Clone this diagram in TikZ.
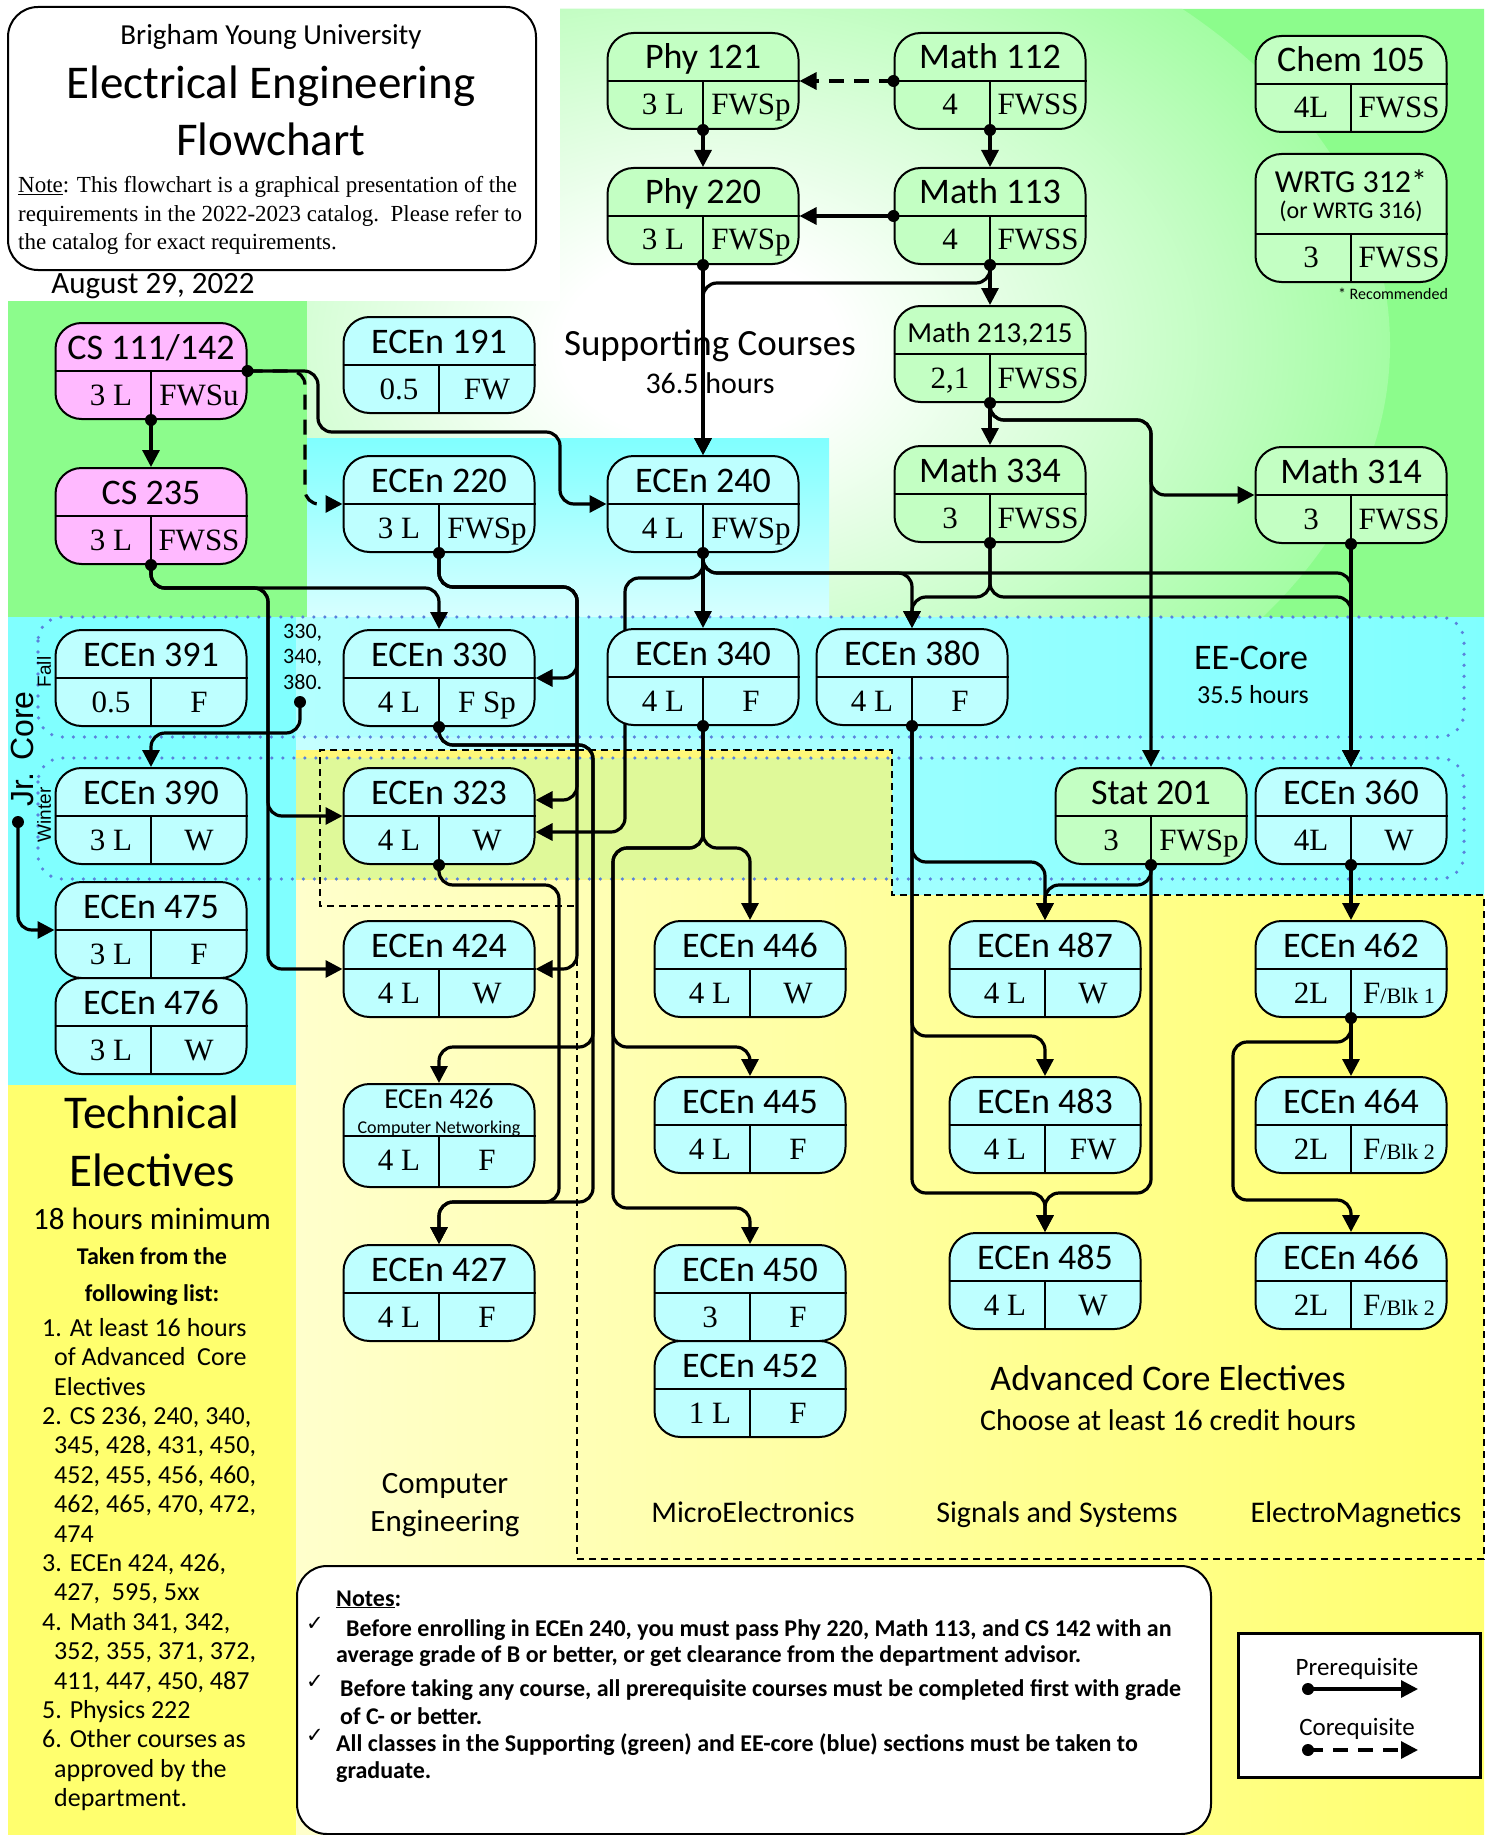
\documentclass[tikz,border=0pt]{standalone}
\usepackage{fontspec}
\setmainfont{Carlito}
\newfontfamily\serifnum{Liberation Serif}
\newfontfamily\arialfont{Liberation Sans}
\newfontfamily\checkfont{DejaVu Sans}
\usetikzlibrary{arrows.meta,calc}

\pgfdeclarelayer{bg}
\pgfdeclarelayer{lines}
\pgfsetlayers{bg,lines,main}

\definecolor{greenbg}{RGB}{140,252,140}
\definecolor{cyanbg}{RGB}{128,255,255}
\definecolor{cyanlight}{RGB}{215,255,255}
\definecolor{yellowbg}{RGB}{255,255,110}
\definecolor{yellowlight}{RGB}{255,255,238}
\definecolor{cebg}{RGB}{255,248,120}
\definecolor{eebox}{RGB}{190,255,255}
\definecolor{suppbox}{RGB}{195,255,195}
\definecolor{csbox}{RGB}{255,185,255}
\definecolor{banddot}{RGB}{90,130,220}

\pgfdeclareradialshading{suppglow}{\pgfpoint{0bp}{0bp}}{color(0bp)=(white); color(5bp)=(white); color(18bp)=(greenbg!50!white); color(30bp)=(greenbg); color(50bp)=(greenbg)}

\newcommand{\fsz}[1]{\fontsize{#1}{#1}\selectfont}
\newcommand{\blk}[1]{F{\fsz{22}/Blk #1}}

\tikzset{
  coursebox/.style={draw, line width=2pt, rounded corners=26pt, minimum width=191pt, minimum height=96pt, inner sep=0pt},
  coursetitle/.style={anchor=base, inner sep=0pt, font=\fsz{36}},
  coursenum/.style={anchor=base, inner sep=0pt, font=\serifnum\fsz{31}},
  lbl/.style={anchor=base, inner sep=0pt},
  prereq/.style={line width=3.2pt, rounded corners=14pt, -{Triangle[length=17pt,width=17pt]}},
  coreq/.style={prereq, dash pattern=on 15pt off 10pt},
  region/.style={dash pattern=on 7pt off 5pt, line width=1.8pt},
  band/.style={draw=banddot, line width=3.6pt, line cap=round, dash pattern=on 0pt off 11pt, rounded corners=24pt, fill=cyanbg, fill opacity=0.25},
  notetext/.style={lbl, anchor=base west, font=\bfseries\fsz{24}},
}

% one course: name, x, y, fill, title, credits, semesters
\newcommand{\course}[7]{%
  \node[coursebox, fill=#4] (#1) at (#2,#3) {};
  \draw[line width=2pt] (#1.west) -- (#1.east) (#1.center) -- (#1.south);
  \node[coursetitle] (#1-t) at ($(#1.center)+(0,-12)$) {#5};
  \node[coursenum] (#1-c) at ($(#1.center)+(-40,34)$) {#6};
  \node[coursenum] (#1-s) at ($(#1.center)+(48,34)$) {#7};
}

\begin{document}
\begin{tikzpicture}[x=1pt, y=-1pt]
\useasboundingbox (0,0) rectangle (1490,1835);

% background regions
\begin{pgfonlayer}{bg}
\fill[white] (0,0) rectangle (1490,1835);
\fill[greenbg] (8,301) rectangle (307,617);
\begin{scope}
\clip (560,9) -- (1484,9) -- (1484,617) -- (829,617) -- (829,438) -- (307,438) -- (307,301) -- (560,301) -- cycle;
\fill[greenbg] (300,0) rectangle (1490,620);
\shade[shading=suppglow] (700,345) ellipse (690 and 470);
\end{scope}
\shade[top color=cyanbg, bottom color=cyanlight] (307,438) rectangle (829,617);
\fill[cyanbg] (8,617) rectangle (296,1085);
\shade[left color=cyanlight!80!cyanbg, middle color=cyanlight!20!white, right color=cyanbg] (296,617) -- (1484,617) -- (1484,895) -- (892,895) -- (892,750) -- (296,750) -- cycle;
\fill[yellowbg] (8,1085) rectangle (296,1835);
\shade[left color=yellowbg!35!white, middle color=yellowlight, right color=yellowbg] (296,750) -- (892,750) -- (892,895) -- (1484,895) -- (1484,1835) -- (296,1835) -- cycle;
\fill[cebg] (296,750) rectangle (892,880);

\draw[band] (38,617) rectangle (1464,737);
\draw[band] (38,758) rectangle (1464,879);

\draw[region] (577,750) -- (320,750) -- (320,906) -- (577,906);
\draw[region] (577,750) -- (892,750) -- (892,895) -- (1484,895) -- (1484,1559) -- (577,1559) -- cycle;

% region labels
\node[lbl, font=\fsz{37}] (supp) at (710,355) {Supporting Courses};
\node[lbl, font=\fsz{30}] (supph) at (710,393) {36.5 hours};
\node[lbl, font=\fsz{36}] (eecore) at (1251,669) {EE-Core};
\node[lbl, font=\fsz{26}] (eecoreh) at (1253,703) {35.5 hours};
\node[font=\arialfont\fsz{32}, rotate=90, inner sep=0pt] (jrcore) at (22,749) {Jr. Core};
\node[font=\arialfont\fsz{19}, rotate=90, inner sep=0pt] (fall) at (44,672) {Fall};
\node[font=\arialfont\fsz{19}, rotate=90, inner sep=0pt] (winterlbl) at (44,815) {Winter};
\node[anchor=north west, inner sep=0pt, align=left, font=\fontsize{22}{25.5}\selectfont] (alltaken) at (283,624) {330,\\340,\\380.};
\end{pgfonlayer}
\coordinate (allcore) at (300,702);
\coordinate (winter) at (18,822);

% courses
\course{phy121}{703}{81}{suppbox}{Phy 121}{3 L}{FWSp}
\course{math112}{990}{81}{suppbox}{Math 112}{4}{FWSS}
\course{chem105}{1351}{84}{suppbox}{Chem 105}{4L}{FWSS}
\course{phy220}{703}{216}{suppbox}{Phy 220}{3 L}{FWSp}
\course{math113}{990}{216}{suppbox}{Math 113}{4}{FWSS}
\course{math213}{990}{354}{suppbox}{{\fsz{29}Math 213,215}}{2,1}{FWSS}
\course{cs111}{151}{371}{csbox}{CS 111/142}{3 L}{FWSu}
\course{ecen191}{439}{365}{eebox}{ECEn 191}{0.5}{FW}
\course{ecen220}{439}{504}{eebox}{ECEn 220}{3 L}{FWSp}
\course{ecen240}{703}{504}{eebox}{ECEn 240}{4 L}{FWSp}
\course{math334}{990}{494}{suppbox}{Math 334}{3}{FWSS}
\course{math314}{1351}{495}{suppbox}{Math 314}{3}{FWSS}
\course{cs235}{151}{516}{csbox}{CS 235}{3 L}{FWSS}
\course{ecen391}{151}{678}{eebox}{ECEn 391}{0.5}{F}
\course{ecen330}{439}{678}{eebox}{ECEn 330}{4 L}{F Sp}
\course{ecen340}{703}{677}{eebox}{ECEn 340}{4 L}{F}
\course{ecen380}{912}{677}{eebox}{ECEn 380}{4 L}{F}
\course{ecen390}{151}{816}{eebox}{ECEn 390}{3 L}{W}
\course{ecen323}{439}{816}{eebox}{ECEn 323}{4 L}{W}
\course{stat201}{1151}{816}{suppbox}{Stat 201}{3}{FWSp}
\course{ecen360}{1351}{816}{eebox}{ECEn 360}{4L}{W}
\course{ecen475}{151}{930}{eebox}{ECEn 475}{3 L}{F}
\course{ecen476}{151}{1026}{eebox}{ECEn 476}{3 L}{W}
\course{ecen424}{439}{969}{eebox}{ECEn 424}{4 L}{W}
\course{ecen446}{750}{969}{eebox}{ECEn 446}{4 L}{W}
\course{ecen487}{1045}{969}{eebox}{ECEn 487}{4 L}{W}
\course{ecen462}{1351}{969}{eebox}{ECEn 462}{2L}{\blk{1}}
\course{ecen445}{750}{1125}{eebox}{ECEn 445}{4 L}{F}
\course{ecen483}{1045}{1125}{eebox}{ECEn 483}{4 L}{FW}
\course{ecen464}{1351}{1125}{eebox}{ECEn 464}{2L}{\blk{2}}
\course{ecen427}{439}{1293}{eebox}{ECEn 427}{4 L}{F}
\course{ecen450}{750}{1293}{eebox}{ECEn 450}{3}{F}
\course{ecen485}{1045}{1281}{eebox}{ECEn 485}{4 L}{W}
\course{ecen466}{1351}{1281}{eebox}{ECEn 466}{2L}{\blk{2}}
\course{ecen452}{750}{1389}{eebox}{ECEn 452}{1 L}{F}

\node[coursebox, fill=suppbox, minimum height=128pt] (wrtg) at (1351,218) {};
\draw[line width=2pt] ($(wrtg.west)+(0,16)$) -- ($(wrtg.east)+(0,16)$) ($(wrtg.center)+(0,16)$) -- (wrtg.south);
\node[lbl, font=\fsz{32}] (wrtg-t) at (1351,193) {WRTG 312*};
\node[lbl, font=\fsz{24}] (wrtg-o) at (1351,219) {(or WRTG 316)};
\node[coursenum] (wrtg-c) at (1311,268) {3};
\node[coursenum] (wrtg-s) at (1399,268) {FWSS};
\node[lbl, font=\fsz{16}] (rec) at (1393,299) {* Recommended};

\node[coursebox, fill=eebox, minimum height=103pt] (ecen426) at (439,1135.5) {};
\draw[line width=2pt] (ecen426.west) -- (ecen426.east) (ecen426.center) -- (ecen426.south);
\node[lbl, font=\fsz{29}] (ecen426-t) at (439,1108) {ECEn 426};
\node[lbl, font=\fsz{18}] (ecen426-n) at (439,1133) {Computer Networking};
\node[coursenum] (ecen426-c) at (399,1170) {4 L};
\node[coursenum] (ecen426-s) at (487,1170) {F};

% connectors
\begin{pgfonlayer}{lines}
\draw[coreq] (math112.west) -- (phy121.east);
\draw[prereq] (phy121.south) -- (phy220.north);
\draw[prereq] (math112.south) -- (math113.north);
\draw[prereq] (math113.west) -- (phy220.east);
\draw[prereq] (math113.south) -- (math213.north);
\draw[prereq] (phy220.south) -- (ecen240.north);
\draw[prereq] (math113.south) -- ++(0,18) -| (ecen240.north);
\draw[prereq] (math213.south) -- (math334.north);
\draw[prereq] (math213.south) |- (1151,420) |- (math314.west);
\draw[prereq] (math213.south) |- (1151,420) -- (stat201.north);
\draw[prereq] (math334.south) |- (912,597) -- (ecen380.north);
\draw[prereq] (math334.south) |- (1351,597) -- (ecen360.north);
\draw[prereq] (math314.south) -- (ecen360.north);
\draw[prereq] (cs111.south) -- (cs235.north);
\draw[prereq] (cs111.east) -| (318,432) -| (560,504) -- (ecen240.west);
\draw[coreq] (cs111.east) -| (305,504) -- (ecen220.west);
\draw[prereq] (cs235.south) |- (439,588) -- (ecen330.north);
\draw[prereq] (cs235.south) |- (268,588) |- (ecen323.west);
\draw[prereq] (cs235.south) |- (268,588) |- (ecen424.west);
\draw[prereq] (ecen220.south) |- (577,587) |- (ecen330.east);
\draw[prereq] (ecen220.south) |- (577,587) |- ($(ecen323.east)+(0,-16)$);
\draw[prereq] (ecen220.south) |- (577,587) |- (ecen424.east);
\draw[prereq] (ecen240.south) -- (ecen340.north);
\draw[prereq] (ecen240.south) |- (912,573) -- (ecen380.north);
\draw[prereq] (ecen240.south) |- (1351,573) -- (ecen360.north);
\draw[prereq] (ecen240.south) |- (625,578) |- ($(ecen323.east)+(0,16)$);
\draw[prereq] (allcore) |- (151,733) -- (ecen390.north);
\draw[prereq] (winter) |- (ecen475.west);
\draw[prereq] (ecen330.south) |- (593,745) |- (439,1047) -- (ecen426.north);
\draw[prereq] (ecen330.south) |- (593,745) |- (439,1202) -- (ecen427.north);
\draw[prereq] (ecen323.south) |- (559,885) |- (439,1202) -- (ecen427.north);
\draw[prereq] (ecen340.south) |- (750,848) -- (ecen446.north);
\draw[prereq] (ecen340.south) |- (613,848) |- (750,1047) -- (ecen445.north);
\draw[prereq] (ecen340.south) |- (613,848) |- (750,1208) -- (ecen450.north);
\draw[prereq] (ecen380.south) |- (1045,862) -- (ecen487.north);
\draw[prereq] (ecen380.south) |- (1045,1036) -- (ecen483.north);
\draw[prereq] (ecen380.south) |- (1045,1193) -- (ecen485.north);
\draw[prereq] (stat201.south) |- (1045,885) -- (ecen487.north);
\draw[prereq] (stat201.south) |- (1045,1193) -- (ecen485.north);
\draw[prereq] (ecen360.south) -- (ecen462.north);
\draw[prereq] (ecen462.south) -- (ecen464.north);
\draw[prereq] (ecen462.south) |- (1233,1042) |- (1351,1200) -- (ecen466.north);
\end{pgfonlayer}

\foreach \p in {phy121.south, math112.south, math112.west, math113.south, math113.west, phy220.south, math213.south, math334.south, math314.south, cs111.south, cs111.east, cs235.south, ecen220.south, ecen240.south, ecen330.south, ecen323.south, ecen340.south, ecen380.south, stat201.south, ecen360.south, ecen462.south, allcore, winter}
  \fill (\p) circle (6);

% title
\node[draw, line width=2pt, rounded corners=30pt, fill=white, anchor=north west, minimum width=528pt, minimum height=263pt] (titlebox) at (7,6) {};
\node[lbl, font=\fsz{29}] (uni) at (271,45) {Brigham Young University};
\node[lbl, font=\fsz{47}] (ee) at (271,99) {Electrical Engineering};
\node[lbl, font=\fsz{47}] (flow) at (271,156) {Flowchart};
\node[lbl, anchor=base west, font=\serifnum\fsz{23}] (note1) at (18,193) {\underline{Note}: This flowchart is a graphical presentation of the};
\node[lbl, anchor=base west, font=\serifnum\fsz{23}] (note2) at (18,222) {requirements in the 2022-2023 catalog.\ \ Please refer to};
\node[lbl, anchor=base west, font=\serifnum\fsz{23}] (note3) at (18,250) {the catalog for exact requirements.};
\node[lbl, font=\fsz{31}] (date) at (153,293) {August 29, 2022};

% technical electives
\node[lbl, font=\fsz{47}] (tech1) at (152,1128) {Technical};
\node[lbl, font=\fsz{47}] (tech2) at (152,1186) {Electives};
\node[lbl, font=\fsz{31}] (tech3) at (152,1229) {18 hours minimum};
\node[lbl, font=\bfseries\fsz{24}] (tech4) at (152,1264) {Taken from the};
\node[lbl, font=\bfseries\fsz{24}] (tech5) at (152,1301) {following list:};
\node[anchor=north west, inner sep=0pt, align=left, font=\fontsize{26}{29.4}\selectfont] (techlist) at (42,1318) {1. At least 16 hours\\
\hspace*{12pt}of Advanced\ \ Core\\
\hspace*{12pt}Electives\\
2. CS 236, 240, 340,\\
\hspace*{12pt}345, 428, 431, 450,\\
\hspace*{12pt}452, 455, 456, 460,\\
\hspace*{12pt}462, 465, 470, 472,\\
\hspace*{12pt}474\\
3. ECEn 424, 426,\\
\hspace*{12pt}427,\ \ 595, 5xx\\
4. Math 341, 342,\\
\hspace*{12pt}352, 355, 371, 372,\\
\hspace*{12pt}411, 447, 450, 487\\
5. Physics 222\\
6. Other courses as\\
\hspace*{12pt}approved by the\\
\hspace*{12pt}department.};

\node[lbl, font=\fsz{31}] (ce1) at (445,1493) {Computer};
\node[lbl, font=\fsz{31}] (ce2) at (445,1531) {Engineering};
\node[lbl, font=\fsz{36}] (adv1) at (1168,1390) {Advanced Core Electives};
\node[lbl, font=\fsz{30}] (adv2) at (1168,1430) {Choose at least 16 credit hours};
\node[lbl, font=\fsz{30}] (micro) at (753,1522) {MicroElectronics};
\node[lbl, font=\fsz{30}] (sigsys) at (1057,1522) {Signals and Systems};
\node[lbl, font=\fsz{30}] (emag) at (1356,1522) {ElectroMagnetics};

% notes
\node[draw, line width=2pt, rounded corners=30pt, fill=white, anchor=north west, minimum width=914pt, minimum height=268pt] (notesbox) at (296,1565) {};
\node[notetext] (notes) at (336,1606) {\underline{Notes}:};
\node[lbl, anchor=base west, font=\checkfont\fsz{21}] (chk1) at (306,1630) {✓};
\node[lbl, anchor=base west, font=\checkfont\fsz{21}] (chk2) at (306,1688) {✓};
\node[lbl, anchor=base west, font=\checkfont\fsz{21}] (chk3) at (306,1742) {✓};
\node[notetext] (n1) at (346,1636) {Before enrolling in ECEn 240, you must pass Phy 220, Math 113, and CS 142 with an};
\node[notetext] (n2) at (336,1662) {average grade of B or better, or get clearance from the department advisor.};
\node[notetext] (n3) at (340,1696) {Before taking any course, all prerequisite courses must be completed first with grade};
\node[notetext] (n4) at (340,1724) {of C- or better.};
\node[notetext] (n5) at (336,1751) {All classes in the Supporting (green) and EE-core (blue) sections must be taken to};
\node[notetext] (n6) at (336,1778) {graduate.};

% legend
\node[draw, line width=2.5pt, fill=white, anchor=north west, minimum width=242pt, minimum height=144pt, inner sep=0pt] (legend) at (1237,1632) {};
\node[lbl, font=\fsz{25}] (lpre) at (1357,1675) {Prerequisite};
\node[lbl, font=\fsz{25}] (lco) at (1357,1735) {Corequisite};
\coordinate (preA) at (1308,1689);
\coordinate (preB) at (1418,1689);
\coordinate (coA) at (1308,1750);
\coordinate (coB) at (1418,1750);
\draw[prereq] (preA) -- (preB);
\draw[coreq] (coA) -- (coB);
\fill (preA) circle (6);
\fill (coA) circle (6);
\end{tikzpicture}
\end{document}
